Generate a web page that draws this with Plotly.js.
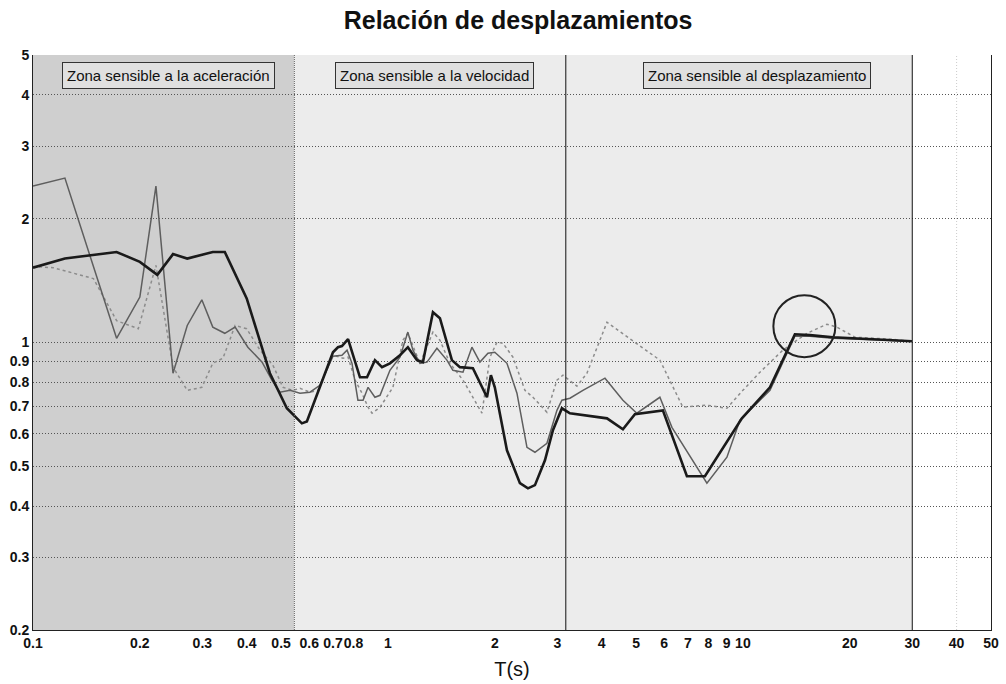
<!DOCTYPE html>
<html>
<head>
<meta charset="utf-8">
<script src="https://cdn.plot.ly/plotly-3.0.1.min.js"></script>
<style>html,body{margin:0;padding:0;background:#fff;}#chart{width:1006px;height:684px;}</style>
</head>
<body>
<div id="chart"></div>
<script>
// Series A (thick black)
const periodA = [0.1,0.123,0.172,0.2,0.224,0.248,0.272,0.321,0.347,0.40,0.465,0.519,0.572,0.591,0.70,0.723,0.742,0.772,0.834,0.873,0.919,0.962,1.013,1.081,1.138,1.207,1.255,1.339,1.401,1.514,1.595,1.735,1.901,1.95,2.0,2.164,2.354,2.48,2.595,2.769,2.916,3.091,3.256,4.141,4.592,4.963,5.95,6.955,7.816,8.612,9.935,11.92,14.01,15.45,17.93,26.46,29.93];
const ratioA  = [1.52,1.60,1.66,1.57,1.46,1.64,1.60,1.66,1.66,1.28,0.842,0.692,0.636,0.643,0.947,0.974,0.98,1.019,0.823,0.823,0.906,0.871,0.89,0.931,0.974,0.906,0.896,1.185,1.146,0.906,0.871,0.866,0.736,0.833,0.778,0.547,0.455,0.442,0.45,0.517,0.612,0.692,0.673,0.654,0.615,0.669,0.684,0.473,0.473,0.538,0.654,0.778,1.047,1.042,1.03,1.013,1.007];
// Series B (medium grey)
const periodB = [0.1,0.123,0.172,0.2,0.222,0.248,0.272,0.299,0.321,0.347,0.371,0.403,0.442,0.471,0.496,0.53,0.565,0.603,0.643,0.70,0.742,0.767,0.792,0.823,0.851,0.879,0.919,0.95,1.013,1.081,1.138,1.176,1.231,1.288,1.374,1.466,1.524,1.627,1.724,1.816,1.913,2.0,2.164,2.309,2.464,2.595,2.805,2.993,3.091,3.256,3.542,4.087,4.592,5.027,5.836,6.31,7.918,9.015,9.806,11.92,14.01,15.45,17.93,26.46,29.93];
const ratioB  = [2.40,2.51,1.024,1.29,2.40,0.842,1.10,1.27,1.09,1.053,1.09,0.974,0.896,0.81,0.757,0.765,0.753,0.757,0.787,0.926,0.931,0.958,0.89,0.724,0.724,0.778,0.736,0.744,0.856,0.921,1.06,0.958,0.89,0.896,0.968,0.906,0.856,0.847,0.974,0.896,0.942,0.947,0.89,0.753,0.556,0.541,0.569,0.684,0.724,0.732,0.765,0.819,0.724,0.673,0.736,0.622,0.455,0.526,0.647,0.765,1.036,1.036,1.024,1.013,1.007];
// Series C (light grey, dotted)
const periodC = [0.1,0.114,0.148,0.172,0.198,0.222,0.248,0.272,0.299,0.321,0.343,0.371,0.40,0.436,0.474,0.506,0.54,0.565,0.603,0.635,0.70,0.747,0.772,0.808,0.845,0.879,0.902,0.95,1.033,1.102,1.138,1.231,1.339,1.401,1.495,1.627,1.735,1.84,1.938,2.028,2.109,2.25,2.432,2.562,2.805,2.993,3.112,3.407,3.636,4.141,5.836,6.23,6.776,7.918,9.015,10.0,11.17,12.96,15.15,17.24,18.4,20.68,25.95,29.93];
const ratioC  = [1.53,1.52,1.43,1.13,1.08,1.54,0.871,0.765,0.778,0.89,0.916,1.10,1.08,0.958,0.881,0.778,0.765,0.774,0.757,0.765,0.931,0.916,0.921,0.81,0.753,0.696,0.673,0.696,0.778,1.013,1.053,0.89,1.06,1.013,0.89,0.81,0.736,0.673,0.921,1.002,0.996,0.921,0.765,0.736,0.677,0.81,0.833,0.783,0.842,1.12,0.906,0.81,0.696,0.704,0.692,0.765,0.847,0.958,1.053,1.108,1.09,1.03,1.019,1.007];

const xTickVals = [0.1,0.2,0.3,0.4,0.5,0.6,0.7,0.8,1,2,3,4,5,6,7,8,9,10,20,30,40,50];
const xTickText = ['0.1','0.2','0.3','0.4','0.5','0.6','0.7','0.8','1','2','3','4','5','6','7','8','9','10','20','30','40','50'];
const yTickVals = [0.2,0.3,0.4,0.5,0.6,0.7,0.8,0.9,1,2,3,4,5];
const yTickText = ['0.2','0.3','0.4','0.5','0.6','0.7','0.8','0.9','1','2','3','4','5'];

const zoneEdges = [0.1, 0.545, 3.17, 30];
const zoneFills = ['#cfcfcf', '#ececec', '#ececec'];
const zoneLabels = ['Zona sensible a la aceleración', 'Zona sensible a la velocidad', 'Zona sensible al desplazamiento'];
const zoneLabelPos = [0.141, 0.4196, 0.7557];
const extraGridT = [40];

const circleT = [14.9];
const circleR = [1.096];

const FONT = 'Liberation Sans, Arial, sans-serif';

const traces = [
  {x: periodC, y: ratioC, mode: 'lines', line: {color: '#8c8c8c', width: 1.5, dash: 'dot'}, hoverinfo: 'skip'},
  {x: periodB, y: ratioB, mode: 'lines', line: {color: '#5e5e5e', width: 1.5}, hoverinfo: 'skip'},
  {x: periodA, y: ratioA, mode: 'lines', line: {color: '#1a1a1a', width: 2.6}, hoverinfo: 'skip'},
  {x: circleT, y: circleR, mode: 'markers', marker: {symbol: 'circle-open', size: 62, color: '#222', line: {width: 2, color: '#222'}}, hoverinfo: 'skip'}
];

const shapes = [];
for (let i = 0; i < zoneFills.length; i++) {
  shapes.push({type: 'rect', xref: 'x', yref: 'paper', x0: zoneEdges[i], x1: zoneEdges[i+1], y0: 0, y1: 1,
    fillcolor: zoneFills[i], line: {width: 0}, layer: 'below'});
}
extraGridT.forEach(t => shapes.push({type: 'line', xref: 'x', yref: 'paper', x0: t, x1: t, y0: 0, y1: 1, line: {color: '#cccccc', width: 1, dash: '1px,2px'}, layer: 'below'}));
shapes.push({type: 'line', xref: 'x', yref: 'paper', x0: zoneEdges[1], x1: zoneEdges[1], y0: 0, y1: 1, line: {color: '#666', width: 1, dash: '1px,1px'}, layer: 'above'});
shapes.push({type: 'line', xref: 'x', yref: 'paper', x0: zoneEdges[2], x1: zoneEdges[2], y0: 0, y1: 1, line: {color: '#111', width: 1}, layer: 'above'});
shapes.push({type: 'line', xref: 'x', yref: 'paper', x0: zoneEdges[3], x1: zoneEdges[3], y0: 0, y1: 1, line: {color: '#111', width: 1}, layer: 'above'});

const annotations = zoneLabels.map((t, i) => ({
  text: t, xref: 'paper', yref: 'paper', x: zoneLabelPos[i], y: 0.965, xanchor: 'center', yanchor: 'middle', showarrow: false,
  font: {family: FONT, size: 15, color: '#111'}, bgcolor: '#e0e0e0', bordercolor: '#333', borderwidth: 1, borderpad: 4
}));

const layout = {
  width: 1006, height: 684,
  margin: {l: 33, r: 15, t: 55, b: 54},
  paper_bgcolor: '#ffffff', plot_bgcolor: '#ffffff',
  showlegend: false,
  title: {text: '<b>Relación de desplazamientos</b>', font: {family: FONT, size: 25, color: '#111'}, x: 0.515, xanchor: 'center', y: 0.97, yanchor: 'middle'},
  xaxis: {
    type: 'log', range: [-1, Math.log10(50)], tickvals: xTickVals, ticktext: xTickText, tickangle: 0,
    tickfont: {family: FONT, size: 14, color: '#111', weight: 'bold'},
    showgrid: false,
    showline: true, linecolor: '#222', linewidth: 1, mirror: false, zeroline: false, ticks: '',
    title: {text: 'T(s)', font: {family: FONT, size: 20, color: '#111'}, standoff: 12}
  },
  yaxis: {
    type: 'log', range: [Math.log10(0.2), Math.log10(5)], tickvals: yTickVals, ticktext: yTickText,
    tickfont: {family: FONT, size: 14, color: '#111', weight: 'bold'},
    showgrid: true, gridcolor: '#555', griddash: '1px,2px', gridwidth: 1,
    showline: true, linecolor: '#222', linewidth: 1, mirror: true, zeroline: false, ticks: ''
  },
  shapes: shapes,
  annotations: annotations
};

Plotly.newPlot('chart', traces, layout, {displayModeBar: false, staticPlot: true});
</script>
</body>
</html>
